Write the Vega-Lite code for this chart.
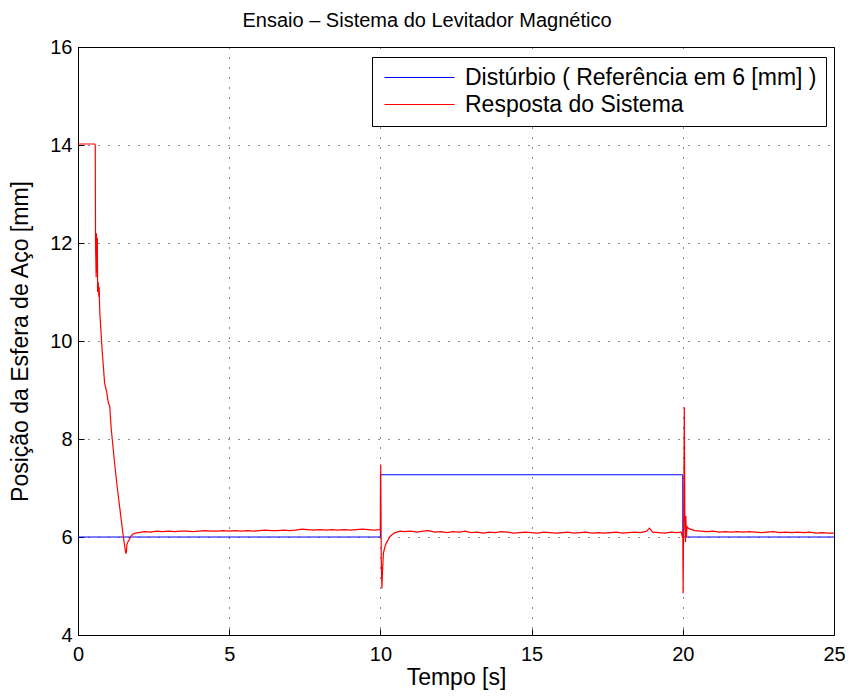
{
  "$schema": "https://vega.github.io/schema/vega-lite/v6.json",
  "width": 756,
  "height": 588,
  "autosize": "none",
  "padding": {"left": 78, "top": 47, "right": 18, "bottom": 62},
  "background": "white",
  "title": {"text": "Ensaio – Sistema do Levitador Magnético", "font": "Liberation Sans", "fontSize": 20, "fontWeight": "normal", "color": "black", "offset": 6, "dx": -29},
  "config": {
    "view": {"stroke": "black", "strokeWidth": 1},
    "axis": {"domainColor": "black", "tickColor": "black", "labelColor": "black", "titleColor": "black", "labelFont": "Liberation Sans", "titleFont": "Liberation Sans", "labelFontSize": 20, "titleFontSize": 23, "titleFontWeight": "normal", "gridColor": "black", "gridDash": [1, 9], "gridOpacity": 0.9, "ticks": true, "tickSize": -6, "labelFlush": false}
  },
  "datasets": {
    "ref": [
      {"t": 0, "v": 6, "s": "Distúrbio ( Referência em 6 [mm] )"},
      {"t": 9.999, "v": 6, "s": "Distúrbio ( Referência em 6 [mm] )"},
      {"t": 10.0, "v": 7.27, "s": "Distúrbio ( Referência em 6 [mm] )"},
      {"t": 19.999, "v": 7.27, "s": "Distúrbio ( Referência em 6 [mm] )"},
      {"t": 20.0, "v": 6, "s": "Distúrbio ( Referência em 6 [mm] )"},
      {"t": 25, "v": 6, "s": "Distúrbio ( Referência em 6 [mm] )"}
    ],
    "resp": [
      {"t": 0, "v": 14.02}, {"t": 0.55, "v": 14.02}, {"t": 0.57, "v": 14.0}, {"t": 0.58, "v": 12.0},
      {"t": 0.6, "v": 11.3}, {"t": 0.61, "v": 12.2}, {"t": 0.62, "v": 11.4}, {"t": 0.64, "v": 12.1},
      {"t": 0.65, "v": 11.0}, {"t": 0.67, "v": 11.2}, {"t": 0.69, "v": 10.9}, {"t": 0.7, "v": 11.1},
      {"t": 0.72, "v": 10.6}, {"t": 0.75, "v": 10.29}, {"t": 0.8, "v": 9.8}, {"t": 0.88, "v": 9.14},
      {"t": 0.95, "v": 8.95}, {"t": 1.0, "v": 8.75}, {"t": 1.05, "v": 8.66}, {"t": 1.1, "v": 8.2},
      {"t": 1.21, "v": 7.51}, {"t": 1.3, "v": 7.0}, {"t": 1.43, "v": 6.35}, {"t": 1.5, "v": 6.0},
      {"t": 1.58, "v": 5.66}, {"t": 1.6, "v": 5.7}, {"t": 1.62, "v": 5.85}, {"t": 1.65, "v": 5.9},
      {"t": 1.7, "v": 5.95}, {"t": 1.75, "v": 6.02}, {"t": 1.82, "v": 6.06}, {"t": 1.9, "v": 6.08},
      {"t": 2.0, "v": 6.09}, {"t": 2.2, "v": 6.11}, {"t": 2.4, "v": 6.10}, {"t": 2.6, "v": 6.12},
      {"t": 2.8, "v": 6.11}, {"t": 3.0, "v": 6.12}, {"t": 3.2, "v": 6.11}, {"t": 3.4, "v": 6.12},
      {"t": 3.6, "v": 6.12}, {"t": 3.8, "v": 6.11}, {"t": 4.0, "v": 6.12}, {"t": 4.2, "v": 6.13},
      {"t": 4.4, "v": 6.12}, {"t": 4.6, "v": 6.12}, {"t": 4.8, "v": 6.13}, {"t": 5.0, "v": 6.12},
      {"t": 5.2, "v": 6.13}, {"t": 5.4, "v": 6.12}, {"t": 5.6, "v": 6.13}, {"t": 5.8, "v": 6.12},
      {"t": 6.0, "v": 6.13}, {"t": 6.2, "v": 6.14}, {"t": 6.4, "v": 6.13}, {"t": 6.6, "v": 6.13},
      {"t": 6.8, "v": 6.14}, {"t": 7.0, "v": 6.13}, {"t": 7.2, "v": 6.14}, {"t": 7.4, "v": 6.16},
      {"t": 7.6, "v": 6.15}, {"t": 7.8, "v": 6.14}, {"t": 8.0, "v": 6.15}, {"t": 8.2, "v": 6.14},
      {"t": 8.4, "v": 6.15}, {"t": 8.6, "v": 6.14}, {"t": 8.8, "v": 6.15}, {"t": 9.0, "v": 6.14},
      {"t": 9.2, "v": 6.15}, {"t": 9.4, "v": 6.16}, {"t": 9.6, "v": 6.15}, {"t": 9.8, "v": 6.14},
      {"t": 9.98, "v": 6.15}, {"t": 10.0, "v": 6.16}, {"t": 10.01, "v": 7.48}, {"t": 10.02, "v": 6.5},
      {"t": 10.03, "v": 5.5}, {"t": 10.05, "v": 4.95}, {"t": 10.07, "v": 5.3}, {"t": 10.1, "v": 5.67},
      {"t": 10.15, "v": 5.8}, {"t": 10.2, "v": 5.88}, {"t": 10.32, "v": 6.01}, {"t": 10.45, "v": 6.08},
      {"t": 10.65, "v": 6.12}, {"t": 10.8, "v": 6.11}, {"t": 11.0, "v": 6.12}, {"t": 11.2, "v": 6.10},
      {"t": 11.4, "v": 6.12}, {"t": 11.6, "v": 6.13}, {"t": 11.8, "v": 6.10}, {"t": 12.0, "v": 6.11},
      {"t": 12.2, "v": 6.09}, {"t": 12.4, "v": 6.11}, {"t": 12.6, "v": 6.10}, {"t": 12.8, "v": 6.12},
      {"t": 13.0, "v": 6.09}, {"t": 13.2, "v": 6.10}, {"t": 13.4, "v": 6.08}, {"t": 13.6, "v": 6.10},
      {"t": 13.8, "v": 6.09}, {"t": 14.0, "v": 6.11}, {"t": 14.2, "v": 6.10}, {"t": 14.4, "v": 6.08},
      {"t": 14.6, "v": 6.09}, {"t": 14.8, "v": 6.10}, {"t": 15.0, "v": 6.09}, {"t": 15.2, "v": 6.08},
      {"t": 15.4, "v": 6.10}, {"t": 15.6, "v": 6.09}, {"t": 15.8, "v": 6.08}, {"t": 16.0, "v": 6.09},
      {"t": 16.2, "v": 6.10}, {"t": 16.4, "v": 6.08}, {"t": 16.6, "v": 6.09}, {"t": 16.8, "v": 6.10},
      {"t": 17.0, "v": 6.08}, {"t": 17.2, "v": 6.09}, {"t": 17.4, "v": 6.08}, {"t": 17.6, "v": 6.09},
      {"t": 17.8, "v": 6.10}, {"t": 18.0, "v": 6.08}, {"t": 18.2, "v": 6.09}, {"t": 18.4, "v": 6.10},
      {"t": 18.6, "v": 6.09}, {"t": 18.8, "v": 6.12}, {"t": 18.9, "v": 6.18}, {"t": 19.0, "v": 6.10},
      {"t": 19.2, "v": 6.09}, {"t": 19.4, "v": 6.08}, {"t": 19.6, "v": 6.10}, {"t": 19.8, "v": 6.09},
      {"t": 19.95, "v": 6.1}, {"t": 19.98, "v": 6.02}, {"t": 20.0, "v": 6.05}, {"t": 20.01, "v": 4.85},
      {"t": 20.03, "v": 6.5}, {"t": 20.05, "v": 8.65}, {"t": 20.07, "v": 6.2}, {"t": 20.09, "v": 5.9},
      {"t": 20.1, "v": 6.43}, {"t": 20.12, "v": 6.0}, {"t": 20.14, "v": 6.21}, {"t": 20.2, "v": 6.17},
      {"t": 20.3, "v": 6.15}, {"t": 20.4, "v": 6.13}, {"t": 20.6, "v": 6.12}, {"t": 20.8, "v": 6.11},
      {"t": 21.0, "v": 6.12}, {"t": 21.2, "v": 6.10}, {"t": 21.4, "v": 6.11}, {"t": 21.6, "v": 6.10},
      {"t": 21.8, "v": 6.11}, {"t": 22.0, "v": 6.10}, {"t": 22.2, "v": 6.11}, {"t": 22.4, "v": 6.10},
      {"t": 22.6, "v": 6.09}, {"t": 22.8, "v": 6.10}, {"t": 23.0, "v": 6.11}, {"t": 23.2, "v": 6.09},
      {"t": 23.4, "v": 6.10}, {"t": 23.6, "v": 6.09}, {"t": 23.8, "v": 6.10}, {"t": 24.0, "v": 6.09},
      {"t": 24.2, "v": 6.10}, {"t": 24.4, "v": 6.08}, {"t": 24.6, "v": 6.09}, {"t": 24.8, "v": 6.08},
      {"t": 25.0, "v": 6.08}
    ]
  },
  "layer": [
    {
      "data": {"name": "ref"},
      "mark": {"type": "line", "strokeWidth": 1, "clip": true},
      "encoding": {
        "x": {"field": "t", "type": "quantitative", "scale": {"domain": [0, 25], "nice": false}, "axis": {"values": [0, 5, 10, 15, 20, 25], "title": "Tempo [s]", "labelPadding": 15, "titlePadding": 2, "format": "d"}},
        "y": {"field": "v", "type": "quantitative", "scale": {"domain": [4, 16], "nice": false, "zero": false}, "axis": {"values": [4, 6, 8, 10, 12, 14, 16], "title": "Posição da Esfera de Aço [mm]", "labelPadding": 12, "titlePadding": 17, "format": "d"}},
        "color": {"field": "s", "type": "nominal", "scale": {"domain": ["Distúrbio ( Referência em 6 [mm] )", "Resposta do Sistema"], "range": ["#0000FF", "#FF0000"]},
          "legend": {"title": null, "orient": "none", "legendX": 294, "legendY": 10, "symbolType": "M-5,0H5", "symbolSize": 196, "symbolStrokeWidth": 1, "symbolOffset": 27, "labelFont": "Liberation Sans", "labelFontSize": 23, "labelColor": "black", "labelOffset": 34, "labelLimit": 600, "strokeColor": "black", "fillColor": "white", "padding": 9, "rowPadding": 3}}
      }
    },
    {
      "data": {"name": "resp"},
      "transform": [{"calculate": "'Resposta do Sistema'", "as": "s"}],
      "mark": {"type": "line", "strokeWidth": 1.2, "clip": true},
      "encoding": {
        "x": {"field": "t", "type": "quantitative"},
        "y": {"field": "v", "type": "quantitative"},
        "color": {"field": "s", "type": "nominal"}
      }
    }
  ]
}
